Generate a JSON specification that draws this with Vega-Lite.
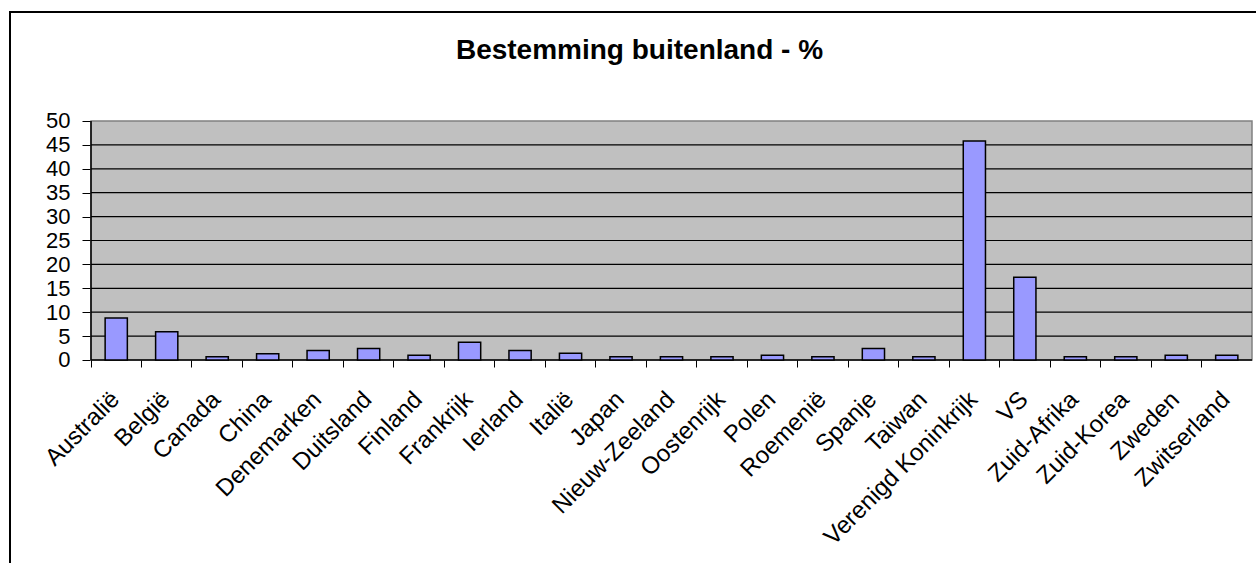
{
  "$schema": "https://vega.github.io/schema/vega-lite/v6.json",
  "autosize": {"type": "none"},
  "padding": {"left": 10, "top": 12, "right": -4, "bottom": -5},
  "width": 1250,
  "height": 556,
  "background": "white",
  "title": {
    "text": "Bestemming buitenland - %",
    "font": "Liberation Sans",
    "fontSize": 28,
    "fontWeight": "bold",
    "color": "black",
    "anchor": "middle",
    "frame": "group",
    "dx": 4.5,
    "offset": -53
  },
  "data": {
    "values": [
      {"land": "Australië", "pct": 8.8},
      {"land": "België", "pct": 5.9},
      {"land": "Canada", "pct": 0.7},
      {"land": "China", "pct": 1.3},
      {"land": "Denemarken", "pct": 2.0},
      {"land": "Duitsland", "pct": 2.4},
      {"land": "Finland", "pct": 1.0},
      {"land": "Frankrijk", "pct": 3.7},
      {"land": "Ierland", "pct": 2.0},
      {"land": "Italië", "pct": 1.4},
      {"land": "Japan", "pct": 0.7},
      {"land": "Nieuw-Zeeland", "pct": 0.7},
      {"land": "Oostenrijk", "pct": 0.7},
      {"land": "Polen", "pct": 1.0},
      {"land": "Roemenië", "pct": 0.7},
      {"land": "Spanje", "pct": 2.4},
      {"land": "Taiwan", "pct": 0.7},
      {"land": "Verenigd Koninkrijk", "pct": 45.8},
      {"land": "VS", "pct": 17.3},
      {"land": "Zuid-Afrika", "pct": 0.7},
      {"land": "Zuid-Korea", "pct": 0.7},
      {"land": "Zweden", "pct": 1.0},
      {"land": "Zwitserland", "pct": 1.0}
    ]
  },
  "layer": [
    {
      "data": {"values": [{}]},
      "mark": {"type": "rect", "fill": "#C0C0C0", "stroke": "#808080", "strokeWidth": 1.5},
      "encoding": {
        "x": {"datum": "Australië", "type": "nominal", "bandPosition": 0,
          "scale": {"domain": ["Australië","België","Canada","China","Denemarken","Duitsland","Finland","Frankrijk","Ierland","Italië","Japan","Nieuw-Zeeland","Oostenrijk","Polen","Roemenië","Spanje","Taiwan","Verenigd Koninkrijk","VS","Zuid-Afrika","Zuid-Korea","Zweden","Zwitserland"], "paddingInner": 0, "paddingOuter": 0.8816, "align": 0.9101},
          "axis": {"title": null, "orient": "bottom", "offset": -208, "domain": false, "labelAngle": -45, "labelFont": "Liberation Sans", "labelFontSize": 24, "labelColor": "black", "labelPadding": 20, "labelOffset": -9, "labelOverlap": false, "labelLimit": 400, "bandPosition": 0, "tickSize": 7, "tickColor": "black", "tickWidth": 1, "grid": false}},
        "x2": {"datum": "Zwitserland", "bandPosition": 1},
        "y": {"datum": 0, "type": "quantitative", "scale": {"domain": [-43.515, 72.803], "nice": false, "zero": false},
          "axis": {"title": null, "orient": "left", "offset": -81, "domain": false, "values": [0, 5, 10, 15, 20, 25, 30, 35, 40, 45, 50], "labelFont": "Liberation Sans", "labelFontSize": 22, "labelColor": "black", "labelPadding": 12, "tickSize": 9, "tickColor": "black", "grid": false}},
        "y2": {"datum": 50}
      }
    },
    {
      "data": {"values": [{"g": 5}, {"g": 10}, {"g": 15}, {"g": 20}, {"g": 25}, {"g": 30}, {"g": 35}, {"g": 40}, {"g": 45}]},
      "mark": {"type": "rule", "stroke": "black", "strokeWidth": 1.2},
      "encoding": {
        "x": {"datum": "Australië", "type": "nominal", "bandPosition": 0,
          "scale": {"domain": ["Australië","België","Canada","China","Denemarken","Duitsland","Finland","Frankrijk","Ierland","Italië","Japan","Nieuw-Zeeland","Oostenrijk","Polen","Roemenië","Spanje","Taiwan","Verenigd Koninkrijk","VS","Zuid-Afrika","Zuid-Korea","Zweden","Zwitserland"], "paddingInner": 0, "paddingOuter": 0.8816, "align": 0.9101},
          "axis": {"title": null, "orient": "bottom", "offset": -208, "domain": false, "labelAngle": -45, "labelFont": "Liberation Sans", "labelFontSize": 24, "labelColor": "black", "labelPadding": 20, "labelOffset": -9, "labelOverlap": false, "labelLimit": 400, "bandPosition": 0, "tickSize": 7, "tickColor": "black", "tickWidth": 1, "grid": false}},
        "x2": {"datum": "Zwitserland", "bandPosition": 1},
        "y": {"field": "g", "type": "quantitative", "scale": {"domain": [-43.515, 72.803], "nice": false, "zero": false},
          "axis": {"title": null, "orient": "left", "offset": -81, "domain": false, "values": [0, 5, 10, 15, 20, 25, 30, 35, 40, 45, 50], "labelFont": "Liberation Sans", "labelFontSize": 22, "labelColor": "black", "labelPadding": 12, "tickSize": 9, "tickColor": "black", "grid": false}}
      }
    },
    {
      "data": {"values": [{}]},
      "mark": {"type": "rule", "stroke": "black", "strokeWidth": 1.5},
      "encoding": {
        "x": {"datum": "Australië", "type": "nominal", "bandPosition": 0,
          "scale": {"domain": ["Australië","België","Canada","China","Denemarken","Duitsland","Finland","Frankrijk","Ierland","Italië","Japan","Nieuw-Zeeland","Oostenrijk","Polen","Roemenië","Spanje","Taiwan","Verenigd Koninkrijk","VS","Zuid-Afrika","Zuid-Korea","Zweden","Zwitserland"], "paddingInner": 0, "paddingOuter": 0.8816, "align": 0.9101},
          "axis": {"title": null, "orient": "bottom", "offset": -208, "domain": false, "labelAngle": -45, "labelFont": "Liberation Sans", "labelFontSize": 24, "labelColor": "black", "labelPadding": 20, "labelOffset": -9, "labelOverlap": false, "labelLimit": 400, "bandPosition": 0, "tickSize": 7, "tickColor": "black", "tickWidth": 1, "grid": false}},
        "y": {"datum": 0, "type": "quantitative", "scale": {"domain": [-43.515, 72.803], "nice": false, "zero": false},
          "axis": {"title": null, "orient": "left", "offset": -81, "domain": false, "values": [0, 5, 10, 15, 20, 25, 30, 35, 40, 45, 50], "labelFont": "Liberation Sans", "labelFontSize": 22, "labelColor": "black", "labelPadding": 12, "tickSize": 9, "tickColor": "black", "grid": false}},
        "y2": {"datum": 50}
      }
    },
    {
      "data": {"values": [{}]},
      "mark": {"type": "rule", "stroke": "black", "strokeWidth": 1.5},
      "encoding": {
        "x": {"datum": "Australië", "type": "nominal", "bandPosition": 0,
          "scale": {"domain": ["Australië","België","Canada","China","Denemarken","Duitsland","Finland","Frankrijk","Ierland","Italië","Japan","Nieuw-Zeeland","Oostenrijk","Polen","Roemenië","Spanje","Taiwan","Verenigd Koninkrijk","VS","Zuid-Afrika","Zuid-Korea","Zweden","Zwitserland"], "paddingInner": 0, "paddingOuter": 0.8816, "align": 0.9101},
          "axis": {"title": null, "orient": "bottom", "offset": -208, "domain": false, "labelAngle": -45, "labelFont": "Liberation Sans", "labelFontSize": 24, "labelColor": "black", "labelPadding": 20, "labelOffset": -9, "labelOverlap": false, "labelLimit": 400, "bandPosition": 0, "tickSize": 7, "tickColor": "black", "tickWidth": 1, "grid": false}},
        "x2": {"datum": "Zwitserland", "bandPosition": 1},
        "y": {"datum": 0, "type": "quantitative", "scale": {"domain": [-43.515, 72.803], "nice": false, "zero": false},
          "axis": {"title": null, "orient": "left", "offset": -81, "domain": false, "values": [0, 5, 10, 15, 20, 25, 30, 35, 40, 45, 50], "labelFont": "Liberation Sans", "labelFontSize": 22, "labelColor": "black", "labelPadding": 12, "tickSize": 9, "tickColor": "black", "grid": false}}
      }
    },
    {
      "mark": {"type": "bar", "fill": "#9999FF", "stroke": "black", "strokeWidth": 1.5, "width": {"band": 0.44}},
      "encoding": {
        "x": {
          "field": "land",
          "type": "nominal",
          "sort": null,
          "scale": {"domain": ["Australië","België","Canada","China","Denemarken","Duitsland","Finland","Frankrijk","Ierland","Italië","Japan","Nieuw-Zeeland","Oostenrijk","Polen","Roemenië","Spanje","Taiwan","Verenigd Koninkrijk","VS","Zuid-Afrika","Zuid-Korea","Zweden","Zwitserland"], "paddingInner": 0, "paddingOuter": 0.8816, "align": 0.9101},
          "axis": {"title": null, "orient": "bottom", "offset": -208, "domain": false, "labelAngle": -45, "labelFont": "Liberation Sans", "labelFontSize": 24, "labelColor": "black", "labelPadding": 20, "labelOffset": -9, "labelOverlap": false, "labelLimit": 400, "bandPosition": 0, "tickSize": 7, "tickColor": "black", "tickWidth": 1, "grid": false}
        },
        "y": {
          "field": "pct",
          "type": "quantitative",
          "scale": {"domain": [-43.515, 72.803], "nice": false, "zero": false},
          "axis": {"title": null, "orient": "left", "offset": -81, "domain": false, "values": [0, 5, 10, 15, 20, 25, 30, 35, 40, 45, 50], "labelFont": "Liberation Sans", "labelFontSize": 22, "labelColor": "black", "labelPadding": 12, "tickSize": 9, "tickColor": "black", "grid": false}
        }
      }
    }
  ],
  "config": {
    "view": {"fill": "white", "stroke": "black", "strokeWidth": 2}
  }
}
